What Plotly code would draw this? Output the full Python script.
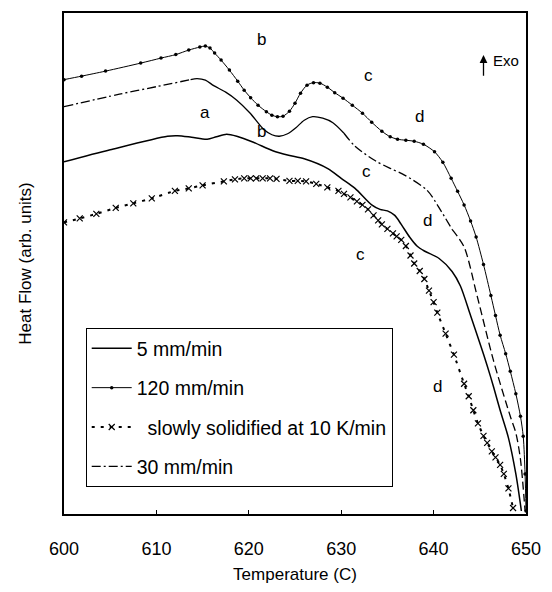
import plotly.graph_objects as go

# DSC heating traces: temperature (C) vs heat flow (arbitrary units)
temp_5 = [600.0, 605.0, 611.2, 612.3, 613.8, 615.5, 616.5, 617.6, 618.7, 620.5, 622.6, 624.3,
          626.0, 628.6, 630.0, 631.5, 633.3, 634.2, 635.0, 635.8, 636.5, 637.4, 638.2, 639.0,
          640.6, 642.0, 642.9, 644.0, 645.1, 645.8, 646.5, 647.2, 648.1, 648.9, 649.5]
hf_5 = [70.3, 72.7, 75.4, 75.5, 75.2, 74.8, 75.3, 75.8, 75.4, 74.2, 72.5, 71.6,
        70.9, 68.9, 67.0, 65.0, 61.7, 60.8, 60.5, 59.6, 57.8, 55.3, 53.5, 52.5,
        51.0, 48.4, 45.5, 39.6, 33.6, 29.6, 25.3, 20.7, 15.2, 8.0, 0.6]

temp_120 = [600.0, 601.9, 604.5, 608.3, 610.5, 612.1, 613.5, 614.7, 615.3, 615.8, 616.3, 617.0,
            617.9, 618.8, 619.5, 620.2, 621.0, 621.9, 622.5, 623.1, 623.7, 624.4, 625.0, 625.6,
            626.3, 627.0, 627.7, 628.5, 629.3, 630.2, 631.2, 632.3, 633.3, 634.4, 635.3, 636.1,
            637.0, 637.9, 638.9, 640.1, 641.0, 641.9, 642.6, 643.3, 644.0, 644.6, 645.4, 646.2,
            646.7, 647.2, 647.8, 648.3, 648.9, 649.4, 649.7, 649.9, 650.0]
hf_120 = [86.7, 87.4, 88.4, 90.0, 91.0, 91.7, 92.6, 93.2, 93.4, 93.0, 92.0, 90.6,
          88.6, 86.4, 84.6, 83.1, 81.6, 80.3, 79.6, 79.3, 79.4, 80.4, 82.0, 84.0,
          85.6, 86.1, 86.0, 85.2, 84.1, 83.0, 81.6, 80.0, 78.2, 76.4, 75.3, 74.8,
          74.6, 74.4, 73.8, 72.3, 70.2, 67.0, 64.4, 61.7, 58.5, 55.3, 49.8, 43.6,
          39.6, 35.7, 32.0, 28.5, 24.0, 19.5, 15.5, 8.0, 0.6]

temp_slow = [600.0, 601.7, 603.5, 605.6, 607.5, 609.5, 612.0, 613.5, 615.0, 617.3, 618.5, 619.5,
             620.2, 620.8, 621.5, 622.3, 623.0, 624.4, 625.3, 626.2, 627.3, 628.5, 629.7, 630.3,
             631.0, 631.7, 632.3, 632.9, 633.5, 634.0, 634.4, 635.0, 635.6, 636.0, 636.5, 637.0,
             637.5, 637.9, 638.5, 639.0, 639.5, 640.0, 640.4, 641.3, 642.2, 643.3, 643.8, 644.3,
             644.8, 645.4, 645.8, 646.3, 646.7, 647.2, 647.6, 648.1, 648.6]
hf_slow = [58.2, 59.0, 59.9, 61.1, 62.0, 63.0, 64.5, 65.0, 65.6, 66.4, 66.8, 67.0,
           67.0, 67.0, 67.0, 67.0, 66.9, 66.5, 66.5, 66.4, 65.9, 65.2, 64.5, 63.9,
           63.2, 62.4, 61.7, 60.8, 59.6, 58.6, 57.8, 56.9, 56.0, 55.4, 54.7, 53.5,
           51.6, 50.0, 48.5, 46.9, 44.6, 42.3, 40.2, 36.0, 31.8, 26.0, 23.5, 20.7,
           18.1, 15.6, 14.2, 12.5, 11.3, 9.8, 8.0, 5.1, 1.2]

temp_30 = [600.0, 606.0, 610.0, 613.7, 614.4, 615.3, 616.2, 617.5, 618.7, 620.1, 621.6, 622.5,
           623.3, 624.2, 625.1, 626.0, 626.9, 628.0, 629.1, 630.3, 631.5, 633.7, 635.3, 636.9,
           639.3, 640.8, 642.0, 643.3, 644.7, 646.5, 648.3, 648.9, 649.4, 649.9]
hf_30 = [81.3, 83.8, 85.3, 86.7, 86.9, 86.6, 85.5, 84.2, 82.6, 80.1, 76.8, 75.7,
         75.4, 75.9, 77.1, 78.6, 79.3, 79.0, 78.1, 76.0, 73.4, 70.5, 69.0, 67.6,
         64.6, 60.5, 56.8, 53.3, 43.6, 30.5, 19.5, 16.2, 10.9, 0.6]

x_ticks = [600, 610, 620, 630, 640, 650]

# peak labels: (text, temperature, heat flow)
peak_labels = [("b", 621.4, 94.7), ("c", 632.9, 87.5), ("d", 638.5, 79.3),
               ("a", 615.3, 80.1), ("b", 621.4, 76.4), ("c", 632.7, 68.4),
               ("d", 639.3, 58.6), ("c", 632.1, 51.8), ("d", 640.4, 25.4)]

FONT = "Liberation Sans, Arial, sans-serif"
NBSP = "\u00a0"

fig = go.Figure()

fig.add_trace(go.Scatter(
    x=temp_5, y=hf_5, name="5 mm/min", mode="lines",
    line=dict(color="black", width=1.5, shape="spline", smoothing=0.8),
    legendgroup="g1"))

fig.add_trace(go.Scatter(
    x=temp_120, y=hf_120, name="120 mm/min", mode="lines+markers",
    line=dict(color="black", width=1, shape="spline", smoothing=0.8),
    marker=dict(symbol="circle", size=3.5, color="black"),
    legendgroup="g2"))

fig.add_trace(go.Scatter(
    x=temp_slow, y=hf_slow, name=NBSP * 2 + "slowly solidified at 10 K/min",
    mode="lines+markers",
    line=dict(color="black", width=2, dash="3px,6px", shape="spline", smoothing=0.6),
    marker=dict(symbol="x-thin", size=6, line=dict(color="black", width=1.2)),
    legendgroup="g3"))

# 30 mm/min trace is drawn in pieces with changing line style
segments_30 = [(600.0, 613.7, "9px,3px,2px,3px"), (613.7, 630.3, "solid"),
               (630.3, 642.0, "9px,3px,2px,3px"), (642.0, 650.0, "8px,4px")]
for i, (lo, hi, dash) in enumerate(segments_30):
    pts = [(t, h) for t, h in zip(temp_30, hf_30) if lo <= t <= hi]
    fig.add_trace(go.Scatter(
        x=[p[0] for p in pts], y=[p[1] for p in pts],
        name="30 mm/min", mode="lines",
        line=dict(color="black", width=1.3, dash=dash, shape="spline", smoothing=0.8),
        legendgroup="g4", showlegend=(i == 0)))

for txt, t, h in peak_labels:
    fig.add_annotation(x=t, y=h, text=txt, showarrow=False,
                       font=dict(family=FONT, size=17, color="black"))

# exotherm direction marker
fig.add_annotation(x=645.4, y=91.6, ax=645.4, ay=87.2, xref="x", yref="y",
                   axref="x", ayref="y", text="", showarrow=True,
                   arrowhead=2, arrowsize=1.2, arrowwidth=1.3, arrowcolor="black")
fig.add_annotation(x=646.2, y=90.5, text="Exo", showarrow=False, xanchor="left",
                   font=dict(family=FONT, size=15, color="black"))

fig.update_layout(
    width=552, height=592,
    margin=dict(l=64, r=17, t=11, b=69),
    paper_bgcolor="white", plot_bgcolor="white",
    font=dict(family=FONT, color="black"),
    showlegend=True,
    legend=dict(x=0.047, y=0.371, xanchor="left", yanchor="top",
                bordercolor="black", borderwidth=1, bgcolor="white",
                font=dict(family=FONT, size=19.5, color="black"),
                traceorder="grouped", tracegroupgap=11, itemwidth=40),
    xaxis=dict(range=[600, 650], tickvals=x_ticks, ticktext=[str(v) for v in x_ticks],
               ticks="inside", ticklen=4, tickcolor="black", ticklabelstandoff=18,
               showline=True, linecolor="black", linewidth=1.5, mirror=True,
               showgrid=False, zeroline=False,
               tickfont=dict(family=FONT, size=18, color="black"),
               title=dict(text="Temperature (C)", standoff=10,
                          font=dict(family=FONT, size=17, color="black"))),
    yaxis=dict(range=[0, 100], showticklabels=False, ticks="",
               showline=True, linecolor="black", linewidth=1.5, mirror=True,
               showgrid=False, zeroline=False,
               title=dict(text="Heat Flow (arb. units)", standoff=26,
                          font=dict(family=FONT, size=17, color="black"))),
)

fig.write_html("out.html")
